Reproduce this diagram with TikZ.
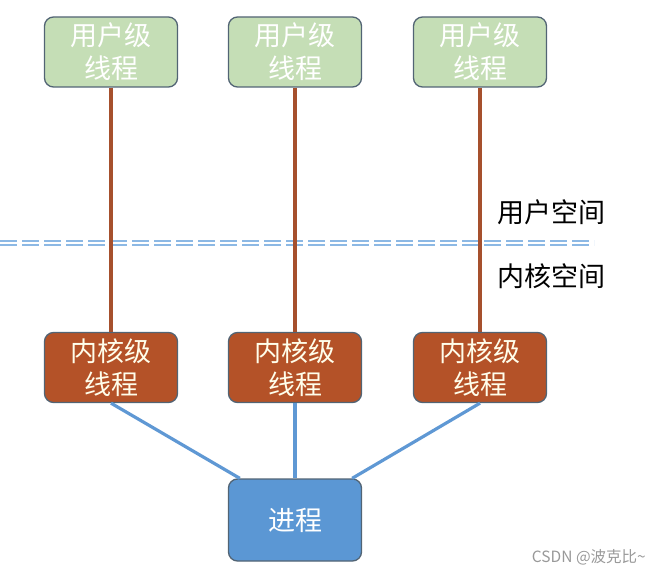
\documentclass[tikz,border=0pt]{standalone}
\usepackage{fontspec}
\newfontfamily\cjk{Noto Sans CJK SC}
\usetikzlibrary{positioning}

\definecolor{userfill}{RGB}{197,222,182}
\definecolor{kernfill}{RGB}{180,82,40}
\definecolor{procfill}{RGB}{91,151,212}
\definecolor{boxline}{RGB}{82,100,116}
\definecolor{brownline}{RGB}{166,80,45}
\definecolor{blueline}{RGB}{95,152,212}
\definecolor{sepblue}{RGB}{140,184,228}

\begin{document}
\begin{tikzpicture}[x=1pt,y=-1pt,
  thread/.style={rounded corners=9pt,draw=boxline,line width=1.3pt,
    minimum width=133pt,minimum height=70pt,inner sep=0pt,align=center,
    text=white,font=\cjk\fontsize{27}{33}\selectfont},
  userthread/.style={thread,fill=userfill},
  kernthread/.style={thread,fill=kernfill,text={white!92!yellow}},
  process/.style={thread,fill=procfill,minimum height=82pt},
  uplink/.style={brownline,line width=3.2pt},
  downlink/.style={blueline,line width=3.2pt},
  sepline/.style={sepblue,line width=2pt,double=white,double distance=2pt,
    dash pattern=on 17pt off 5pt},
  spacelabel/.style={anchor=west,inner sep=0pt,font=\cjk\fontsize{27}{33}\selectfont}]

\useasboundingbox (0,0) rectangle (661,577);

%-------------------User Threads--------------------%
\node[userthread] (u1) at (111,52) {用户级\\线程};
\node[userthread] (u2) at (295,52) {用户级\\线程};
\node[userthread] (u3) at (480,52) {用户级\\线程};
%----------------------------------------------------%

%-------------------Kernel Threads------------------%
\node[kernthread] (k1) at (111,367.5) {内核级\\线程};
\node[kernthread] (k2) at (295,367.5) {内核级\\线程};
\node[kernthread] (k3) at (480,367.5) {内核级\\线程};
%----------------------------------------------------%

%-------------------Process-------------------------%
\node[process] (p) at (295,520) {进程};
%----------------------------------------------------%

%-------------------Separator-----------------------%
\coordinate (sepL) at (0,242.7);
\coordinate (sepR) at (594,242.7);
\draw[sepline] (sepL) -- (sepR);
\node[spacelabel] (userspace) at (497,212) {用户空间};
\node[spacelabel] (kernspace) at (497,276) {内核空间};
%----------------------------------------------------%

%-------------------Links---------------------------%
\draw[uplink] (u1.south) -- (k1.north);
\draw[uplink] (u2.south) -- (k2.north);
\draw[uplink] (u3.south) -- (k3.north);
\draw[downlink] (k1.south) -- ([xshift=12pt]p.north west);
\draw[downlink] (k2.south) -- (p.north);
\draw[downlink] (k3.south) -- ([xshift=-10pt]p.north east);
%----------------------------------------------------%

\node[anchor=east,text=black!40,inner sep=0pt,font=\cjk\fontsize{15.5}{18}\selectfont]
  (mark) at (646,557) {CSDN @波克比\textasciitilde};
\end{tikzpicture}
\end{document}
